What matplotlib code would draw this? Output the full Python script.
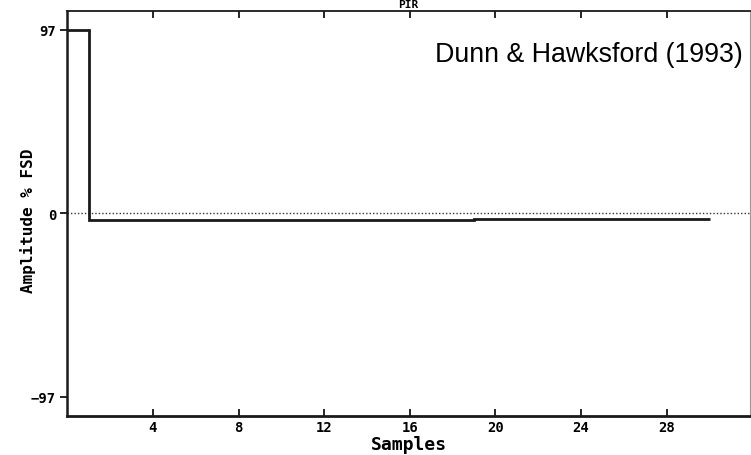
import matplotlib
matplotlib.use('Agg')

import matplotlib.pyplot as plt
import numpy as np

# impulse response samples (% FSD)
samples = np.arange(0, 31)
amplitude = [97.0, -3.4, -3.4, -3.4, -3.4, -3.4, -3.4, -3.4, -3.4, -3.4,
             -3.4, -3.4, -3.3, -3.3, -3.3, -3.3, -3.3, -3.3, -3.3, -3.2,
             -3.2, -3.2, -3.2, -3.2, -3.1, -3.1, -3.1, -3.1, -3.1, -3.1]
xticks = [4, 8, 12, 16, 20, 24, 28]
yticks = [-97, 0, 97]

mono = 'DejaVu Sans Mono'

fig = plt.figure(figsize=(7.51, 4.56), dpi=100)
ax = fig.add_axes([0.0895, 0.086, 0.9095, 0.888])

# zero reference line
ax.axhline(0, color='#333333', lw=1.0, ls=(0, (1, 1.5)), zorder=1)
ax.stairs(amplitude, samples, color='#1a1a1a', lw=2.0, baseline=None, zorder=2)

ax.set_xlim(0, 31.9)
ax.set_ylim(-107, 107)
ax.set_xticks(xticks)
ax.set_yticks(yticks)
ax.tick_params(axis='x', direction='in', top=True, length=5, width=1.2,
               labelsize=10, pad=3)
ax.tick_params(axis='y', direction='out', length=5, width=1.2,
               labelsize=10, pad=3)
for lab in ax.get_xticklabels() + ax.get_yticklabels():
    lab.set_family(mono)
    lab.set_weight('bold')

ax.spines['left'].set_linewidth(1.8)
ax.spines['bottom'].set_linewidth(2.0)
ax.spines['top'].set_linewidth(1.3)
ax.spines['right'].set_linewidth(0.8)
ax.spines['left'].set_color('#1a1a1a')
ax.spines['bottom'].set_color('#1a1a1a')
ax.spines['top'].set_color('#1a1a1a')
ax.spines['right'].set_color('#999999')

ax.set_xlabel('Samples', family=mono, weight='bold', fontsize=13, labelpad=1)
ax.set_ylabel('Amplitude % FSD', family=mono, weight='bold', fontsize=11.5)
ax.yaxis.set_label_coords(-0.045, 0.485)
ax.annotate('PIR', xy=(0.5, 1.0), xycoords='axes fraction',
            xytext=(0, 1.5), textcoords='offset points', ha='center',
            va='bottom', family=mono, weight='bold', fontsize=8)

fig.text(0.989, 0.865, 'Dunn & Hawksford (1993)', ha='right', va='baseline',
         family='Liberation Sans', fontsize=19.3, color='black')

fig.savefig('out.png', dpi=100)
